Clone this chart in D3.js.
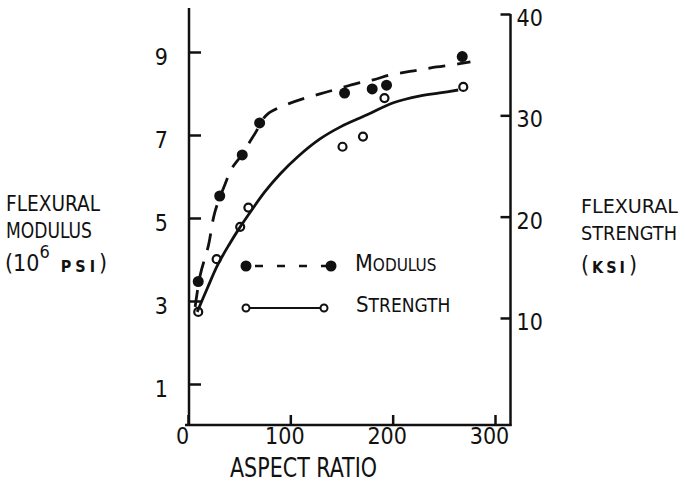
<!DOCTYPE html>
<html>
<head>
<meta charset="utf-8">
<script src="https://cdn.jsdelivr.net/npm/d3@7"></script>
<style>
  html, body { margin: 0; padding: 0; background: #fff; }
  svg { display: block; }
  text { font-family: "Liberation Sans Narrow", "DejaVu Sans Condensed", "Arial Narrow", sans-serif; fill: #111; }
</style>
</head>
<body>
<svg id="chart" width="681" height="484"></svg>
<script>
// Tick labels
const xTicks = [0, 100, 200, 300];
const modulusTicks = [1, 3, 5, 7, 9];
const strengthTicks = [10, 20, 30, 40];

// Measured flexural modulus (10^6 psi) against aspect ratio
const modulusX = [10, 31, 53, 70, 153, 180, 194, 268];
const modulusY = [3.47, 5.53, 6.52, 7.29, 8.01, 8.11, 8.20, 8.89];

// Measured flexural strength (ksi) against aspect ratio
const strengthX = [10, 28, 51, 59, 151, 171, 192, 269];
const strengthY = [10.6, 15.8, 19.0, 20.9, 26.9, 27.9, 31.7, 32.8];

// Fitted trend for the modulus (dashed)
const modulusFitX = [7, 12, 20, 26, 36, 43, 51, 61, 67, 72, 78, 88, 98, 112, 129, 146, 166, 181, 198, 214, 227, 243, 258, 276];
const modulusFitY = [2.86, 3.63, 4.34, 5.12, 5.80, 6.20, 6.47, 6.86, 7.10, 7.34, 7.51, 7.65, 7.75, 7.87, 7.99, 8.11, 8.25, 8.33, 8.45, 8.52, 8.57, 8.64, 8.69, 8.76];

// Fitted trend for the strength (solid)
const strengthFitX = [9, 19, 29, 40, 51, 63, 75, 90, 107, 129, 149, 175, 200, 227, 246, 264];
const strengthFitY = [10.6, 12.96, 15.24, 17.21, 18.99, 20.76, 22.44, 24.21, 25.89, 27.67, 28.86, 30.05, 31.22, 31.92, 32.21, 32.50];

const ink = "#111";
const svg = d3.select("#chart");
svg.append("rect").attr("width", 681).attr("height", 484).attr("fill", "#fff");

const x = d3.scaleLinear().domain([0, 300]).range([188, 495]);
const yL = d3.scaleLinear().domain([0, 10]).range([425.5, 10.5]);
const yR = d3.scaleLinear().domain([0, 40]).range([419.3, 14]);

const leftX = 189, rightX = 510.5, baseY = 425;

// Frame lines
svg.append("line").attr("x1", leftX).attr("x2", leftX).attr("y1", yL(10.06)).attr("y2", baseY + 1)
  .attr("stroke", ink).attr("stroke-width", 2.5);
svg.append("line").attr("x1", 185).attr("x2", rightX + 1).attr("y1", baseY).attr("y2", baseY)
  .attr("stroke", ink).attr("stroke-width", 2.5);
svg.append("line").attr("x1", rightX).attr("x2", rightX).attr("y1", yR(40)).attr("y2", baseY + 1)
  .attr("stroke", ink).attr("stroke-width", 2.5);

function styleAxis(g) {
  g.select(".domain").remove();
  g.selectAll(".tick line").attr("stroke", ink).attr("stroke-width", 2.5);
  g.selectAll(".tick text").attr("fill", ink).style("font-size", "23px")
    .style("font-family", '"Liberation Sans Narrow", "DejaVu Sans Condensed", sans-serif');
}

// Left axis (modulus)
svg.append("g").attr("transform", `translate(${leftX},0)`)
  .call(d3.axisLeft(yL).tickValues(modulusTicks).tickFormat(d3.format("d"))
    .tickSizeInner(-12).tickSizeOuter(0).tickPadding(21))
  .call(styleAxis)
  .call(g => g.selectAll(".tick text").attr("y", 5));

// Right axis (strength)
svg.append("g").attr("transform", `translate(${rightX},0)`)
  .call(d3.axisRight(yR).tickValues(strengthTicks).tickFormat(d3.format("d"))
    .tickSizeInner(-10).tickSizeOuter(0).tickPadding(6))
  .call(styleAxis)
  .call(g => g.selectAll(".tick text").attr("y", 4));

// Bottom axis (aspect ratio)
svg.append("g").attr("transform", `translate(0,${baseY})`)
  .call(d3.axisBottom(x).tickValues(xTicks).tickFormat(d3.format("d"))
    .tickSizeInner(-10).tickSizeOuter(0).tickPadding(3))
  .call(styleAxis)
  .call(g => g.selectAll(".tick text").attr("dx", -6));

// Trend curves
const lineL = d3.line().x(d => x(d[0])).y(d => yL(d[1])).curve(d3.curveCatmullRom.alpha(0.5));
const lineR = d3.line().x(d => x(d[0])).y(d => yR(d[1])).curve(d3.curveCatmullRom.alpha(0.5));

svg.append("path").datum(modulusFitX.map((v, i) => [v, modulusFitY[i]]))
  .attr("d", lineL).attr("fill", "none").attr("stroke", ink).attr("stroke-width", 2.8)
  .attr("stroke-dasharray", "17,12");

svg.append("path").datum(strengthFitX.map((v, i) => [v, strengthFitY[i]]))
  .attr("d", lineR).attr("fill", "none").attr("stroke", ink).attr("stroke-width", 2.8);

// Data points
svg.append("g").selectAll("circle").data(modulusX.map((v, i) => [v, modulusY[i]]))
  .join("circle").attr("cx", d => x(d[0])).attr("cy", d => yL(d[1])).attr("r", 5.5).attr("fill", ink);

svg.append("g").selectAll("circle").data(strengthX.map((v, i) => [v, strengthY[i]]))
  .join("circle").attr("cx", d => x(d[0])).attr("cy", d => yR(d[1])).attr("r", 4)
  .attr("fill", "none").attr("stroke", ink).attr("stroke-width", 2.2);

// Legend
const lg = svg.append("g");
lg.append("line").attr("x1", 255).attr("x2", 330).attr("y1", 266).attr("y2", 266)
  .attr("stroke", ink).attr("stroke-width", 2.6).attr("stroke-dasharray", "8,14");
lg.append("circle").attr("cx", 246).attr("cy", 266).attr("r", 5.5).attr("fill", ink);
lg.append("circle").attr("cx", 331).attr("cy", 266).attr("r", 5.5).attr("fill", ink);
lg.append("line").attr("x1", 249).attr("x2", 321).attr("y1", 308).attr("y2", 308)
  .attr("stroke", ink).attr("stroke-width", 2.2);
lg.append("circle").attr("cx", 246).attr("cy", 308).attr("r", 3.5).attr("fill", "#fff").attr("stroke", ink).attr("stroke-width", 2);
lg.append("circle").attr("cx", 324).attr("cy", 308).attr("r", 3.5).attr("fill", "#fff").attr("stroke", ink).attr("stroke-width", 2);

// Legend labels: large initial followed by small capitals, flowing in one text
const modLabel = svg.append("text").attr("x", 355).attr("y", 271);
modLabel.append("tspan").style("font-size", "23px").text("M");
modLabel.append("tspan").style("font-size", "17px").text("ODULUS");

const strLabel = svg.append("text").attr("x", 356).attr("y", 312);
strLabel.append("tspan").style("font-size", "22px").text("S");
strLabel.append("tspan").style("font-size", "19px").text("TRENGTH");

function txt(str, xPos, yPos, size, len) {
  const t = svg.append("text").attr("x", xPos).attr("y", yPos).style("font-size", size + "px").text(str);
  if (len) t.attr("textLength", len).attr("lengthAdjust", "spacingAndGlyphs");
  return t;
}

// Axis titles
txt("FLEXURAL", 6, 211, 22, 94);
txt("MODULUS", 6, 238, 22, 86);
const unitL = svg.append("text").attr("x", 5).attr("y", 271).style("font-size", "23px");
unitL.append("tspan").text("(10");
unitL.append("tspan").attr("dy", -13).style("font-size", "18px").text("6");
unitL.append("tspan").attr("dx", 11).attr("dy", 14).style("font-size", "16px")
  .style("font-weight", "bold").style("letter-spacing", "4px").text("PSI");
unitL.append("tspan").attr("dy", -1).text(")");

txt("FLEXURAL", 581, 213, 20, 97);
txt("STRENGTH", 581, 240, 20, 96);
const unitR = svg.append("text").attr("x", 581).attr("y", 273).style("font-size", "23px");
unitR.append("tspan").text("(");
unitR.append("tspan").attr("dx", 3).style("font-size", "16px").style("font-weight", "bold")
  .style("letter-spacing", "3px").text("KSI");
unitR.append("tspan").attr("dx", 1).text(")");

txt("ASPECT RATIO", 230, 477, 27, 147);
</script>
</body>
</html>
